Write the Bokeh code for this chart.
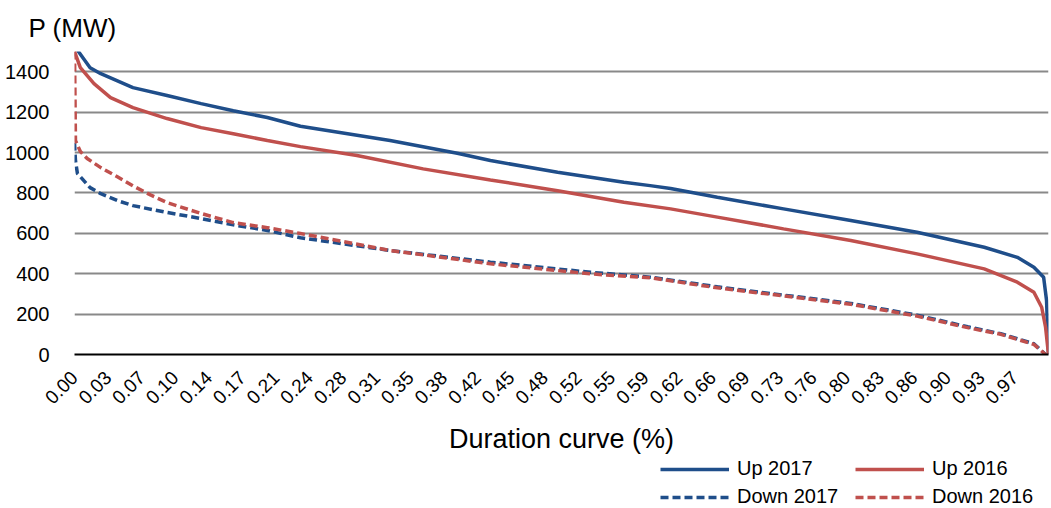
from bokeh.plotting import figure
from bokeh.layouts import column
from bokeh.models import FixedTicker, Legend, LegendItem, Range1d
from bokeh.embed import file_html
from bokeh.resources import INLINE

# ---------------- data ----------------
up_2017_x = [0.0, 0.004, 0.016, 0.027, 0.06, 0.095, 0.13, 0.163, 0.198, 0.232, 0.324, 0.393,
             0.427, 0.496, 0.564, 0.591, 0.612, 0.66, 0.728, 0.797, 0.865, 0.934, 0.968, 0.985,
             0.995, 0.998, 1.0]
up_2017 = [1560, 1500, 1420, 1390, 1321, 1282, 1242, 1207, 1173, 1130, 1059, 996,
           960, 902, 853, 836, 822, 778, 721, 663, 605, 531, 481, 432,
           382, 267, 0]

up_2016_x = [0.0, 0.006, 0.02, 0.037, 0.06, 0.095, 0.13, 0.163, 0.198, 0.232, 0.29, 0.358,
             0.427, 0.496, 0.564, 0.612, 0.66, 0.728, 0.797, 0.865, 0.934, 0.968, 0.985,
             0.993, 0.997, 1.0]
up_2016 = [1500, 1420, 1341, 1272, 1222, 1168, 1123, 1093, 1059, 1029, 985, 919,
           864, 811, 754, 721, 680, 622, 564, 498, 424, 358, 308,
           234, 135, 0]

down_2017_x = [0.0, 0.001, 0.003, 0.016, 0.027, 0.044, 0.06, 0.095, 0.13, 0.163, 0.198, 0.232,
               0.324, 0.427, 0.53, 0.591, 0.66, 0.728, 0.797, 0.865, 0.917, 0.951, 0.985, 0.997]
down_2017 = [1049, 960, 896, 826, 796, 762, 737, 703, 673, 642, 614, 578,
             515, 457, 407, 383, 335, 294, 253, 195, 137, 103, 53, 0]

down_2016_x = [0.0, 0.001, 0.006, 0.013, 0.027, 0.044, 0.06, 0.078, 0.095, 0.13, 0.163, 0.198,
               0.232, 0.324, 0.427, 0.53, 0.591, 0.66, 0.728, 0.797, 0.865, 0.917, 0.951,
               0.985, 0.997]
down_2016 = [1500, 1059, 1005, 970, 925, 880, 835, 790, 752, 698, 653, 628,
             599, 515, 449, 399, 380, 330, 290, 249, 190, 133, 100,
             50, 0]

x_tick_labels = ["0.00", "0.03", "0.07", "0.10", "0.14", "0.17", "0.21", "0.24", "0.28", "0.31",
                 "0.35", "0.38", "0.42", "0.45", "0.48", "0.52", "0.55", "0.59", "0.62", "0.66",
                 "0.69", "0.73", "0.76", "0.80", "0.83", "0.86", "0.90", "0.93", "0.97"]
y_ticks = [0, 200, 400, 600, 800, 1000, 1200, 1400]

series_names = ["Up 2017", "Down 2017", "Up 2016", "Down 2016"]
series_x = [up_2017_x, down_2017_x, up_2016_x, down_2016_x]
series_y = [up_2017, down_2017, up_2016, down_2016]

BLUE = "#1F4E8A"
RED = "#C0504D"
FONT = "Liberation Sans"
styles = [dict(line_color=BLUE, line_width=3.5),
          dict(line_color=BLUE, line_width=3.5, line_dash="8 4"),
          dict(line_color=RED, line_width=3.5),
          dict(line_color=RED, line_width=3.5, line_dash="8 4")]

# ---------------- main figure ----------------
p = figure(width=1051, height=457, x_range=Range1d(0, 1), y_range=Range1d(0, 1500),
           output_backend="svg", toolbar_location=None,
           min_border_left=74, min_border_right=3, min_border_top=51, min_border_bottom=103)
p.outline_line_color = None
p.background_fill_color = "white"

p.title.text = "P (MW)"
p.title.align = "left"
p.title.offset = -46
p.title.text_font = FONT
p.title.text_font_size = "26px"
p.title.text_font_style = "normal"
p.title.text_color = "black"
p.title.standoff = 18

step = 1.0 / len(x_tick_labels)
x_ticks = [round(i * step, 6) for i in range(len(x_tick_labels))]

xa = p.xaxis[0]
xa.ticker = FixedTicker(ticks=x_ticks)
xa.major_label_overrides = {t: lab for t, lab in zip(x_ticks, x_tick_labels)}
xa.major_label_orientation = 0.785398
xa.major_label_text_font = FONT
xa.major_label_text_font_size = "19px"
xa.major_label_text_color = "black"
xa.major_label_standoff = 14
xa.axis_line_color = "black"
xa.axis_line_width = 2
xa.major_tick_line_color = None
xa.minor_tick_line_color = None
xa.axis_label = "Duration curve (%)"
xa.axis_label_text_font = FONT
xa.axis_label_text_font_size = "27px"
xa.axis_label_text_font_style = "normal"
xa.axis_label_text_color = "black"
xa.axis_label_standoff = 11

ya = p.yaxis[0]
ya.ticker = FixedTicker(ticks=y_ticks)
ya.major_label_text_font = FONT
ya.major_label_text_font_size = "20px"
ya.major_label_text_color = "black"
ya.major_label_standoff = 19
ya.axis_line_color = None
ya.major_tick_line_color = None
ya.minor_tick_line_color = None

p.xgrid.visible = False
p.ygrid.grid_line_color = "#898989"
p.ygrid.grid_line_width = 2

for i in [1, 3, 0, 2]:
    p.line(series_x[i], series_y[i], **styles[i])

# ---------------- legend strip (below the chart) ----------------
# same series drawn into a range where they are fully out of view, only to feed the legend
lg = figure(width=1051, height=51, x_range=Range1d(0, 1), y_range=Range1d(-2, -1),
            output_backend="svg", toolbar_location=None,
            x_axis_location=None, y_axis_location=None,
            min_border_left=74, min_border_right=3, min_border_top=0, min_border_bottom=0)
lg.outline_line_color = None
lg.xgrid.visible = False
lg.ygrid.visible = False
items = []
for name, sx, sy, st in zip(series_names, series_x, series_y, styles):
    r = lg.line(sx, sy, **st)
    items.append(LegendItem(label=name, renderers=[r]))

legend = Legend(items=items, location=(586, 0), orientation="vertical", ncols=2,
                glyph_width=69, glyph_height=20, label_height=20, label_width=113,
                label_standoff=8, spacing=5, padding=0, margin=0,
                border_line_color=None, background_fill_alpha=0,
                label_text_font=FONT, label_text_font_size="20px",
                label_text_color="black")
lg.add_layout(legend)

open("out.html", "w").write(file_html(column(p, lg, spacing=0), INLINE))
